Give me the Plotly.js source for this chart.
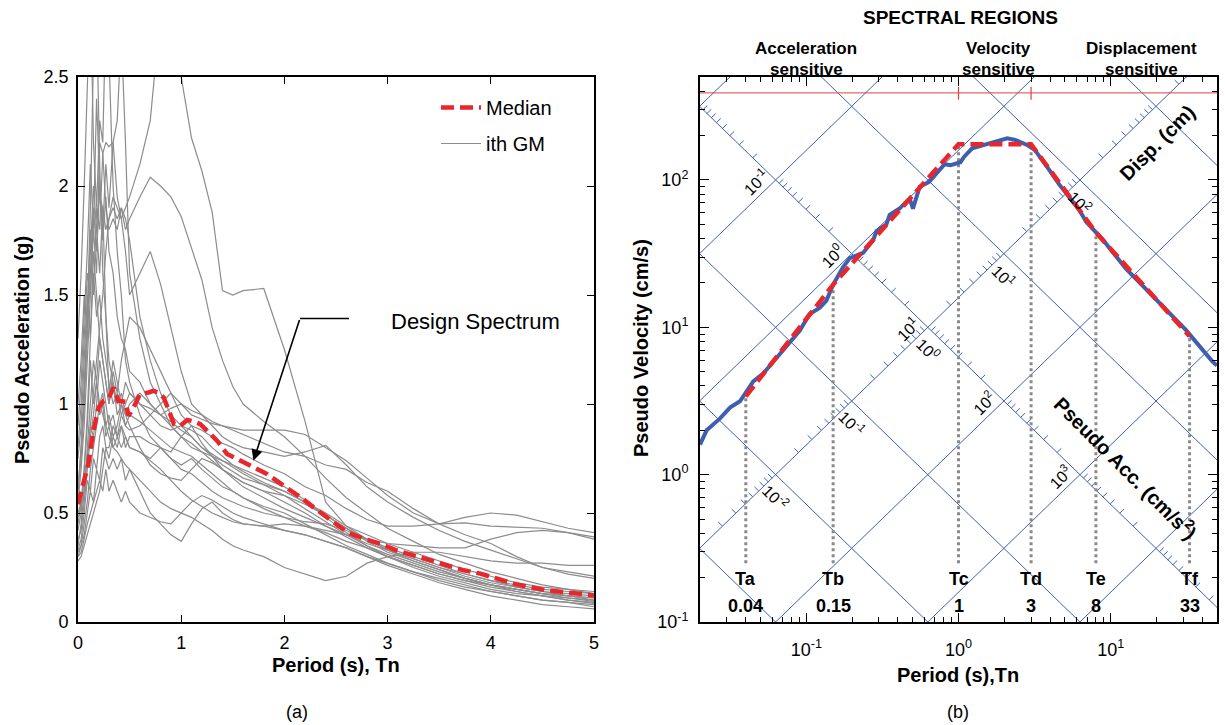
<!DOCTYPE html>
<html>
<head>
<meta charset="utf-8">
<script src="https://cdn.plot.ly/plotly-3.0.1.min.js"></script>
<style>html,body{margin:0;padding:0;background:#fff}#chart{width:1225px;height:725px}</style>
</head>
<body>
<div id="chart"></div>
<script>
// ---------------- (a) response spectra of the ground motions ----------------
const periods = [0,0.03,0.06,0.09,0.12,0.15,0.18,0.21,0.24,0.27, 0.3,0.34,0.38,0.42,0.46,0.5, 0.6,0.7,0.8,0.9,1.0, 1.1,1.2,1.3,1.4,1.5,1.6, 1.8,2.0,2.2,2.4,2.6,2.8,3.0, 3.25,3.5,3.75,4.0,4.25,4.5,4.75,5.0];
const gm01 = [0.45,0.55,0.65,0.75,0.9,1.05,1.2,1.35,1.5,1.7, 1.85,1.95,1.9,1.85,1.9,1.95, 2.1,2.3,2.8,3.0,2.5, 2.22,2.07,1.88,1.52,1.5,1.52, 1.53,1.25,0.92,0.55,0.44,0.4,0.36, 0.32,0.28,0.24,0.21,0.18,0.16,0.15,0.14];
const gm02 = [0.6,0.8,1.0,1.3,1.6,1.9,1.85,1.95,1.9,1.8, 1.85,1.9,1.85,1.9,1.8,1.85, 1.95,2.04,2.0,1.95,1.86, 1.72,1.57,1.35,1.2,1.08,1.0, 0.92,0.85,0.76,0.66,0.57,0.5,0.43, 0.37,0.31,0.27,0.23,0.2,0.17,0.15,0.13];
const gm03 = [0.8,1.0,1.3,1.6,1.5,1.9,1.7,2.0,1.8,2.1, 1.9,2.2,2.3,2.7,2.2,1.6, 1.3,1.1,1.0,0.9,0.85, 0.8,0.78,0.76,0.74,0.72,0.7, 0.66,0.62,0.56,0.48,0.41,0.35,0.3, 0.25,0.21,0.18,0.15,0.13,0.12,0.11,0.1];
const gm04 = [1.3,1.6,2.0,2.6,2.9,2.2,1.9,2.3,2.2,2.8, 2.6,2.0,1.7,1.5,1.2,1.1, 0.95,0.85,0.8,0.75,0.72, 0.75,0.7,0.66,0.62,0.6,0.57, 0.53,0.5,0.45,0.4,0.35,0.31,0.27, 0.23,0.19,0.16,0.14,0.12,0.1,0.09,0.08];
const gm05 = [0.6,0.8,1.1,1.4,1.8,1.5,1.9,1.8,2.15,2.2, 2.18,2.2,1.95,1.85,1.7,1.5, 1.6,1.7,1.55,1.35,1.15, 1.0,0.95,0.9,0.85,0.82,0.8, 0.78,0.76,0.78,0.81,0.72,0.62,0.55, 0.48,0.42,0.37,0.33,0.29,0.25,0.23,0.21];
const gm06 = [0.35,0.45,0.6,0.8,1.0,1.2,1.1,1.3,1.2,1.1, 1.0,1.15,1.05,1.2,1.3,1.4, 1.35,1.25,1.15,1.05,1.0, 0.95,0.93,0.91,0.9,0.89,0.88, 0.88,0.88,0.86,0.8,0.74,0.66,0.58, 0.5,0.45,0.48,0.5,0.49,0.46,0.43,0.41];
const gm07 = [0.5,0.55,0.7,0.9,1.2,1.0,1.1,0.95,1.0,0.85, 0.9,0.8,0.85,0.8,0.85,0.8, 0.78,0.75,0.8,0.78,0.85, 0.9,0.88,0.85,0.82,0.8,0.77, 0.72,0.68,0.62,0.58,0.52,0.47,0.44, 0.44,0.45,0.455,0.44,0.435,0.43,0.41,0.38];
const gm08 = [0.3,0.35,0.45,0.55,0.7,0.8,0.9,1.0,0.95,0.9, 0.85,0.8,0.78,0.75,0.72,0.7, 0.6,0.5,0.45,0.4,0.37, 0.45,0.52,0.55,0.5,0.47,0.45, 0.44,0.45,0.44,0.42,0.4,0.38,0.36, 0.35,0.34,0.34,0.38,0.41,0.42,0.41,0.39];
const gm09 = [0.32,0.35,0.4,0.5,0.6,0.55,0.7,0.65,0.8,0.75, 0.7,0.75,0.7,0.75,0.65,0.7, 0.65,0.6,0.55,0.52,0.5, 0.48,0.45,0.42,0.38,0.35,0.33, 0.3,0.25,0.22,0.19,0.21,0.27,0.3, 0.32,0.32,0.3,0.28,0.27,0.27,0.26,0.26];
const gm10 = [0.55,0.7,0.9,1.2,1.5,1.8,1.6,2.2,2.15,1.9, 1.8,1.85,1.8,1.9,1.85,1.75, 1.4,1.2,1.05,0.95,0.9, 0.88,0.85,0.8,0.76,0.72,0.69, 0.64,0.6,0.55,0.49,0.43,0.37,0.32, 0.28,0.24,0.2,0.17,0.15,0.13,0.12,0.11];
const gm11 = [0.42,0.5,0.7,0.95,1.3,1.6,1.4,1.5,1.3,1.2, 1.1,1.0,1.05,0.95,0.9,0.88, 0.9,0.95,1.0,1.05,0.95, 0.9,0.82,0.76,0.7,0.66,0.62, 0.57,0.52,0.48,0.44,0.4,0.36,0.33, 0.29,0.25,0.22,0.19,0.17,0.15,0.14,0.13];
const gm12 = [0.62,0.75,1.0,1.4,1.9,2.6,2.8,2.1,1.6,1.4, 1.2,1.1,1.0,1.05,0.95,0.9, 0.8,0.72,0.68,0.66,0.65, 0.7,0.75,0.73,0.7,0.67,0.64, 0.6,0.55,0.5,0.44,0.39,0.34,0.3, 0.26,0.22,0.19,0.17,0.15,0.13,0.12,0.11];
const gm13 = [0.38,0.42,0.55,0.7,0.85,0.95,1.1,1.0,1.05,0.9, 0.95,0.85,0.9,1.0,0.95,1.0, 1.05,1.0,0.95,0.98,1.0, 0.97,0.95,0.92,0.9,0.88,0.86, 0.82,0.78,0.76,0.72,0.7,0.64,0.6, 0.52,0.45,0.4,0.36,0.3,0.25,0.22,0.2];
const gm14 = [0.48,0.52,0.6,0.75,0.9,0.85,1.0,1.2,1.1,1.0, 0.9,0.95,0.85,0.9,0.8,0.85, 0.85,0.82,0.8,0.75,0.7, 0.68,0.64,0.6,0.57,0.55,0.53, 0.5,0.48,0.46,0.45,0.42,0.38,0.34, 0.3,0.26,0.22,0.19,0.16,0.14,0.12,0.1];
const gm15 = [0.28,0.3,0.35,0.4,0.45,0.5,0.55,0.6,0.7,0.8, 0.75,0.85,0.8,0.9,0.85,0.8, 0.78,0.74,0.7,0.65,0.6, 0.56,0.53,0.5,0.48,0.46,0.45, 0.44,0.42,0.4,0.37,0.34,0.3,0.27, 0.23,0.2,0.17,0.14,0.12,0.1,0.09,0.07];
const gm16 = [0.33,0.38,0.5,0.65,0.6,0.75,0.7,0.85,0.9,0.8, 0.8,0.9,0.85,0.95,1.0,1.05, 1.0,0.95,0.9,0.88,0.9, 0.85,0.8,0.76,0.72,0.69,0.66, 0.63,0.6,0.55,0.5,0.44,0.38,0.33, 0.28,0.24,0.2,0.17,0.14,0.12,0.1,0.09];
const gm17 = [0.9,1.1,1.4,1.7,2.1,1.8,2.4,2.0,1.75,1.95, 1.7,1.6,1.4,1.3,1.25,1.15, 1.1,1.0,0.95,0.92,0.88, 0.85,0.8,0.77,0.74,0.71,0.68, 0.63,0.58,0.52,0.46,0.4,0.35,0.31, 0.27,0.23,0.2,0.17,0.15,0.13,0.11,0.095];
const gm18 = [0.75,0.9,1.2,1.5,1.3,1.7,1.5,1.3,1.2,1.1, 1.0,1.1,0.95,1.0,0.9,0.95, 0.92,0.88,0.84,0.8,0.78, 0.76,0.72,0.68,0.64,0.6,0.57, 0.52,0.48,0.44,0.41,0.37,0.34,0.3, 0.26,0.22,0.19,0.16,0.14,0.12,0.1,0.085];
const gm19 = [1.0,1.2,1.5,1.35,1.7,2.0,1.8,1.6,1.9,1.4, 1.05,1.2,1.1,1.0,1.1,1.05, 1.0,0.98,0.95,0.9,0.85, 0.82,0.78,0.74,0.7,0.67,0.64, 0.6,0.58,0.54,0.49,0.43,0.38,0.33, 0.29,0.25,0.21,0.18,0.16,0.14,0.13,0.12];
const gm20 = [0.3,0.32,0.38,0.45,0.5,0.55,0.6,0.65,0.6,0.7, 0.6,0.65,0.6,0.55,0.6,0.55, 0.5,0.48,0.46,0.45,0.5, 0.55,0.58,0.56,0.53,0.5,0.48, 0.45,0.42,0.4,0.37,0.34,0.3,0.26, 0.22,0.18,0.15,0.12,0.1,0.08,0.07,0.06];
const groundMotions = [gm01,gm02,gm03,gm04,gm05,gm06,gm07,gm08,gm09,gm10,gm11,gm12,gm13,gm14,gm15,gm16,gm17,gm18,gm19,gm20];

const medianT  = [0,0.054,0.1,0.15,0.2,0.25,0.3,0.345,0.39,0.46, 0.49,0.54,0.6,0.685,0.73,0.78,0.83,0.88,0.93,0.99, 1.06,1.12,1.185,1.25,1.347,1.444,1.573,1.7,1.83,1.99, 2.15,2.28,2.445,2.607,2.767,2.929,3.09,3.25,3.41,3.575, 3.74,3.898,4.06,4.22,4.38,4.545,4.705,5.0];
const medianSa = [0.54,0.634,0.725,0.878,0.985,1.015,1.03,1.076,1.015,1.01, 0.946,0.985,1.046,1.053,1.06,1.053,1.03,0.97,0.908,0.9, 0.927,0.92,0.908,0.878,0.832,0.771,0.74,0.71,0.679,0.626, 0.575,0.527,0.466,0.412,0.382,0.359,0.328,0.305,0.283,0.26, 0.237,0.222,0.199,0.176,0.16,0.145,0.137,0.122];

// ---------------- (b) tripartite spectrum ----------------
const spectrumT   = [0.02,0.0221,0.027,0.0315,0.0366,0.0405,0.0448,0.052,0.0637,0.078,0.0906,0.105,0.1226,0.1355,0.15,0.174,0.193,0.236,0.275,0.289,0.336,0.353,0.41,0.477,0.502,0.556,0.641,0.81,0.887,1.03,1.09,1.23,1.38,1.65,2.09,2.36,2.82,3.17,3.5,4.0,4.6,5.4,6.2,6.9,8.85,12.6,20.8,31.2,46.7,50];
const spectrumPSV = [1.6,2.0,2.4,2.85,3.15,3.7,4.3,4.85,6.2,8.1,9.5,12.3,13.6,15.2,19.5,25.5,29.5,32,39,45,50,58,64,75,64,90,97,128,126,132,144,164,170,178,192,187,173,160,140,115,93,75,63,52,39.5,25,14.6,9.6,5.85,5.5];
const designLabels = ['Ta','Tb','Tc','Td','Te','Tf'];
const designT      = [0.04,0.15,1,3,8,33];
const designPSV    = [3.4,19.5,175,175,44,8.7];
const dispLevels = [0.001,0.01,0.1,1,10,100,1000];     // cm
const accLevels  = [0.1,1,10,100,1000,10000,100000];  // cm/s^2
const accScaleLevels = [10000,1000,100,10,1];
const accScaleText   = ['10<sup>-1</sup>','10<sup>0</sup>','10<sup>1</sup>','10<sup>2</sup>','10<sup>3</sup>'];
const dispScaleLevels = [0.01,0.1,1,10,100];
const dispScaleText   = ['10<sup>-2</sup>','10<sup>-1</sup>','10<sup>0</sup>','10<sup>1</sup>','10<sup>2</sup>'];
const regionRefPSV = 390;

const TWO_PI = 2*Math.PI;
const FONT = 'Liberation Sans, Arial, Helvetica, sans-serif';
const BLUE = '#3f5fae', GRIDBLUE = '#3d5fb5', RED = '#e8262b', GRAY = '#8c8c8c';
const px = p => p/1225, py = p => (725-p)/725;
const yDom = [py(622), py(77)];

const traces = [];
groundMotions.forEach((g,i)=>{
  traces.push({x:periods, y:g, type:'scatter', mode:'lines', xaxis:'x', yaxis:'y',
    line:{color:GRAY, width:1.2}, name:'ith GM', legendgroup:'gm', legendrank:2,
    showlegend:i===0, hoverinfo:'skip'});
});
traces.push({x:medianT, y:medianSa, type:'scatter', mode:'lines', xaxis:'x', yaxis:'y',
  line:{color:RED, width:4.5, dash:'13px,6px'}, name:'Median', legendgroup:'med', legendrank:1, hoverinfo:'skip'});

// tripartite grid lines
const gx=[], gy=[];
dispLevels.forEach(D=>{ [0.01,100].forEach(t=>{gx.push(t); gy.push(TWO_PI*D/t);}); gx.push(null); gy.push(null); });
accLevels.forEach(A=>{ [0.01,100].forEach(t=>{gx.push(t); gy.push(A*t/TWO_PI);}); gx.push(null); gy.push(null); });
traces.push({x:gx, y:gy, type:'scatter', mode:'lines', xaxis:'x2', yaxis:'y2', line:{color:GRIDBLUE, width:1}, showlegend:false, hoverinfo:'skip'});

// scale ticks: acceleration scale along D=1 line, displacement scale along A=100 line
const SCALE_D = 1, SCALE_A = 100, f = Math.pow(10, 0.028);
const tx=[], ty=[];
for (let k=-2;k<=5;k++) for (let m=2;m<=9;m++){
  const A = m*Math.pow(10,k), V = Math.sqrt(SCALE_D*A), T = TWO_PI*SCALE_D/V;
  tx.push(T, T*f, null); ty.push(V, V*f, null);
}
for (let k=-4;k<=3;k++) for (let m=2;m<=9;m++){
  const D = m*Math.pow(10,k), V = Math.sqrt(SCALE_A*D), T = TWO_PI*D/V;
  tx.push(T, T/f, null); ty.push(V, V*f, null);
}
traces.push({x:tx, y:ty, type:'scatter', mode:'lines', xaxis:'x2', yaxis:'y2', line:{color:GRIDBLUE, width:1}, showlegend:false, hoverinfo:'skip'});

// region reference line at top
traces.push({x:[0.02,50], y:[regionRefPSV,regionRefPSV], type:'scatter', mode:'lines', xaxis:'x2', yaxis:'y2', line:{color:'#e04040', width:1}, showlegend:false, hoverinfo:'skip'});
traces.push({x:[designT[2],designT[2],null,designT[3],designT[3]], y:[regionRefPSV*0.9,regionRefPSV*1.1,null,regionRefPSV*0.9,regionRefPSV*1.1],
  type:'scatter', mode:'lines', xaxis:'x2', yaxis:'y2', line:{color:'#e04040', width:1.2}, showlegend:false, hoverinfo:'skip'});

// dotted verticals at corner periods
const dx=[], dy=[];
designT.forEach((t,i)=>{ dx.push(t,t,null); dy.push(0.25, designPSV[i], null); });
traces.push({x:dx, y:dy, type:'scatter', mode:'lines', xaxis:'x2', yaxis:'y2', line:{color:'#8a8a8a', width:3, dash:'dot'}, showlegend:false, hoverinfo:'skip'});

// spectrum and design spectrum
traces.push({x:spectrumT, y:spectrumPSV, type:'scatter', mode:'lines', xaxis:'x2', yaxis:'y2', line:{color:BLUE, width:4}, showlegend:false, hoverinfo:'skip'});
traces.push({x:designT, y:designPSV, type:'scatter', mode:'lines', xaxis:'x2', yaxis:'y2', line:{color:RED, width:4.5, dash:'13px,6px'}, showlegend:false, hoverinfo:'skip'});

// ---------------- annotations ----------------
const ann = [];
const txt = (text,x,y,size,opts={}) => Object.assign({text, x, y, xref:'paper', yref:'paper', showarrow:false,
  xanchor:'center', yanchor:'middle', font:{family:FONT, size, color:'#000'}}, opts);

// panel (a)
ann.push(txt('<b>Pseudo Acceleration (g)</b>', px(22), py(350), 20, {textangle:-90}));
ann.push(txt('<b>Period (s), Tn</b>', px(336), py(665), 20));
ann.push(txt('(a)', px(297), py(712), 18));
ann.push({text:'Design Spectrum', x:3.847, y:1.378, xref:'x', yref:'y', showarrow:false, xanchor:'center', yanchor:'middle', font:{family:FONT, size:22, color:'#000'}});
ann.push({text:'', x:1.70, y:0.74, ax:2.151, ay:1.392, xref:'x', yref:'y', axref:'x', ayref:'y', showarrow:true, arrowhead:2, arrowsize:1.4, arrowwidth:1.6, arrowcolor:'#000'});

// panel (b)
ann.push(txt('<b>SPECTRAL REGIONS</b>', px(960), py(18), 19));
ann.push(txt('<b>Acceleration</b>', px(806), py(49), 17));
ann.push(txt('<b>sensitive</b>', px(806), py(69), 17));
ann.push(txt('<b>Velocity</b>', px(998), py(49), 17));
ann.push(txt('<b>sensitive</b>', px(998), py(69), 17));
ann.push(txt('<b>Displacement</b>', px(1141), py(49), 17));
ann.push(txt('<b>sensitive</b>', px(1141), py(69), 17));
ann.push(txt('<b>Pseudo Velocity (cm/s)</b>', px(641), py(348), 20, {textangle:-90}));
ann.push(txt('<b>Period (s),Tn</b>', px(958), py(675), 20));
ann.push(txt('(b)', px(958), py(712), 18));
ann.push(txt('<b>Disp. (cm)</b>', px(1157), py(143), 20, {textangle:-45}));
ann.push(txt('<b>Pseudo Acc. (cm/s<sup>2</sup>)</b>', px(1127), py(467), 20, {textangle:45}));
designLabels.forEach((lab,i)=>{
  ann.push({text:'<b>'+lab+'</b>', x:Math.log10(designT[i]), y:py(579), xref:'x2', yref:'paper', showarrow:false, xanchor:'center', yanchor:'middle', font:{family:FONT, size:18, color:'#000'}});
  ann.push({text:'<b>'+designT[i]+'</b>', x:Math.log10(designT[i]), y:py(606), xref:'x2', yref:'paper', showarrow:false, xanchor:'center', yanchor:'middle', font:{family:FONT, size:18, color:'#000'}});
});
accScaleLevels.forEach((A,i)=>{
  const V = Math.sqrt(SCALE_D*A), T = TWO_PI*SCALE_D/V;
  ann.push({text:accScaleText[i], x:Math.log10(T), y:Math.log10(V), xref:'x2', yref:'y2', showarrow:false, xanchor:'center', yanchor:'middle',
    xshift:-20, yshift:-2, textangle:-45, font:{family:FONT, size:16, color:'#000'}});
});
dispScaleLevels.forEach((D,i)=>{
  const V = Math.sqrt(SCALE_A*D), T = TWO_PI*D/V;
  ann.push({text:dispScaleText[i], x:Math.log10(T), y:Math.log10(V), xref:'x2', yref:'y2', showarrow:false, xanchor:'center', yanchor:'middle',
    xshift:0, yshift:-22, textangle:45, font:{family:FONT, size:16, color:'#000'}});
});

// minor log ticks
const minorX=[], minorY=[];
for (let k=-2;k<=1;k++) for (let m=2;m<=9;m++){ const v=m*Math.pow(10,k); if (v>0.02 && v<50) minorX.push(v); }
for (let k=-1;k<=2;k++) for (let m=2;m<=9;m++){ const v=m*Math.pow(10,k); if (v>0.1 && v<500) minorY.push(v); }

const baseAxis = {showline:true, linecolor:'#000', mirror:'allticks', ticks:'inside', tickcolor:'#000',
  showgrid:false, zeroline:false, tickfont:{family:FONT, size:18, color:'#000'}, fixedrange:true};

const layout = {
  width:1225, height:725, margin:{l:0,r:0,t:0,b:0}, paper_bgcolor:'#fff', plot_bgcolor:'rgba(0,0,0,0)',
  font:{family:FONT, color:'#000'}, hovermode:false,
  xaxis:Object.assign({}, baseAxis, {domain:[px(78),px(594)], range:[0,5], dtick:1, tick0:0, ticklen:7, linewidth:1.8, anchor:'y', ticklabelstandoff:4}),
  yaxis:Object.assign({}, baseAxis, {domain:yDom, range:[0,2.5], dtick:0.5, tick0:0, ticklen:7, linewidth:1.8, anchor:'x', ticklabelstandoff:4}),
  xaxis2:Object.assign({}, baseAxis, {domain:[px(700),px(1217)], type:'log', range:[Math.log10(0.02),Math.log10(50)], anchor:'y2',
    tickvals:[0.1,1,10], ticktext:['10<sup>-1</sup>','10<sup>0</sup>','10<sup>1</sup>'], ticklen:9, linewidth:2, ticklabelstandoff:10,
    minor:{tickvals:minorX, ticks:'inside', ticklen:5, tickcolor:'#000'}}),
  yaxis2:Object.assign({}, baseAxis, {domain:yDom, type:'log', range:[-1,Math.log10(500)], anchor:'x2',
    tickvals:[0.1,1,10,100], ticktext:['10<sup>-1</sup>','10<sup>0</sup>','10<sup>1</sup>','10<sup>2</sup>'], ticklen:9, linewidth:2, ticklabelstandoff:6,
    minor:{tickvals:minorY, ticks:'inside', ticklen:5, tickcolor:'#000'}}),
  showlegend:true,
  legend:{x:px(436), y:py(88), xanchor:'left', yanchor:'top', bgcolor:'rgba(0,0,0,0)', borderwidth:0,
    font:{family:FONT, size:20, color:'#000'}, traceorder:'grouped', tracegroupgap:7, itemwidth:40},
  shapes:[{type:'line', xref:'x', yref:'y', x0:2.151, y0:1.392, x1:2.626, y1:1.392, line:{color:'#000', width:1.6}}],
  annotations:ann
};

Plotly.newPlot('chart', traces, layout, {staticPlot:true, displayModeBar:false});
</script>
</body>
</html>
